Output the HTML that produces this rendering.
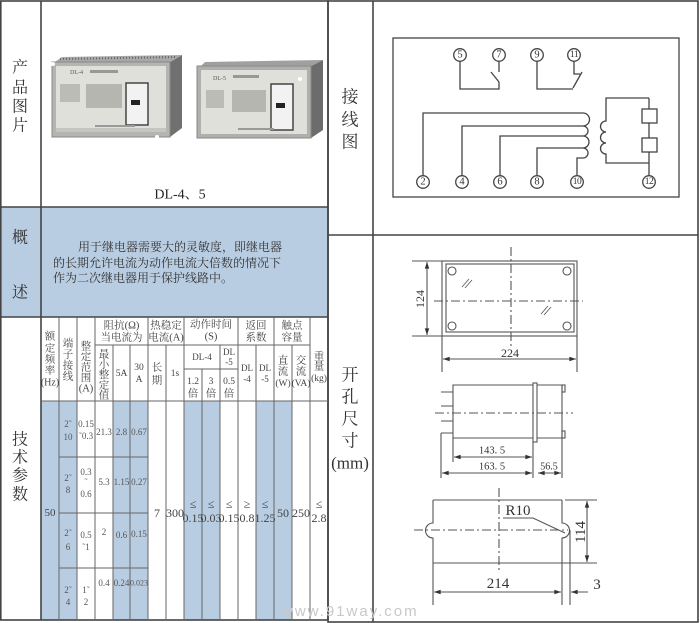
<!DOCTYPE html>
<html><head><meta charset="utf-8"><style>
html,body{margin:0;padding:0;background:#fff;}
svg{display:block;}
text{font-family:"Liberation Serif","Noto Serif CJK SC",serif;}
.h{font-size:10.5px;fill:#444;}
.d{font-size:9px;fill:#555;}
.m{font-size:12px;fill:#444;}
.lab{font-size:16px;fill:#333;}
.n{font-size:10.5px;fill:#333;}
.wm{font-family:"Liberation Sans",sans-serif;font-size:15px;fill:#c8c8c8;}
</style></head><body>
<svg width="700" height="623" viewBox="0 0 700 623" xmlns="http://www.w3.org/2000/svg">
<defs>
<marker id="ar" viewBox="0 0 8 6" refX="8" refY="3" markerWidth="7" markerHeight="5" orient="auto-start-reverse" markerUnits="userSpaceOnUse"><path d="M0,0.3 L8,3 L0,5.7 z" fill="#333"/></marker>
</defs>
<rect width="700" height="623" fill="#fff"/>

<!-- blue fills -->
<rect x="0" y="207" width="328" height="110" fill="#b9cde2"/>
<rect x="41" y="401" width="36" height="219" fill="#b9cde2"/>
<rect x="113" y="401" width="35" height="219" fill="#b9cde2"/>
<rect x="184" y="401" width="36" height="219" fill="#b9cde2"/>
<rect x="256" y="401" width="36" height="219" fill="#b9cde2"/>

<!-- photos -->
<g>
 <polygon points="170,62 182,55 182,128 170,137" fill="#707070"/>
 <polygon points="52,64 62,57 182,55 170,62" fill="#a8a8a8"/>
 <line x1="60" y1="59" x2="176" y2="57" stroke="#666" stroke-width="2" stroke-dasharray="1 2"/>
 <rect x="52" y="62" width="118" height="75" fill="#b4b4b2" stroke="#888"/>
 <rect x="56" y="66" width="110" height="66" fill="#e0e0da"/>
 <rect x="56" y="128" width="110" height="4" fill="#c6c6c0"/>
 <text x="70" y="74" font-size="6" fill="#555">DL-4</text>
 <rect x="90" y="70" width="28" height="3" fill="#999994"/>
 <rect x="60" y="84" width="20" height="18" fill="#bcbcb6"/>
 <rect x="86" y="84" width="36" height="24" fill="#b6b6b0"/>
 <rect x="126" y="83" width="22" height="42" fill="#f2f2f2" stroke="#444" stroke-width="1.5"/>
 <rect x="131" y="100" width="9" height="5" fill="#222"/>
 <rect x="95" y="125" width="40" height="2" fill="#999"/>
 <circle cx="53" cy="64" r="2" fill="#fff"/>
 <circle cx="157" cy="137" r="2" fill="#fff"/>

 <polygon points="311,66 323,60 323,130 311,138" fill="#6c6c6c"/>
 <polygon points="197,70 205,62 323,60 311,66" fill="#a0a0a0"/>
 <rect x="197" y="66" width="114" height="72" fill="#afafad" stroke="#888"/>
 <rect x="201" y="70" width="106" height="64" fill="#e0e0da"/>
 <text x="213" y="80" font-size="6" fill="#555">DL-5</text>
 <rect x="233" y="75" width="26" height="3" fill="#999994"/>
 <rect x="206" y="90" width="18" height="18" fill="#bcbcb6"/>
 <rect x="232" y="90" width="34" height="22" fill="#b6b6b0"/>
 <rect x="271" y="84" width="22" height="46" fill="#f2f2f2" stroke="#444" stroke-width="1.5"/>
 <rect x="276" y="103" width="9" height="5" fill="#222"/>
 <rect x="238" y="128" width="36" height="2" fill="#999"/>
 <circle cx="300" cy="79" r="2" fill="#fff"/>
</g>

<!-- main borders -->
<g stroke="#444" stroke-width="1.6" fill="none">
 <rect x="0.8" y="1" width="327.2" height="619"/>
 <rect x="328" y="1" width="370" height="621"/>
 <line x1="0" y1="207" x2="328" y2="207"/>
 <line x1="0" y1="317" x2="328" y2="317"/>
 <line x1="41" y1="1" x2="41" y2="620"/>
 <line x1="328" y1="235" x2="698" y2="235"/>
 <line x1="373" y1="1" x2="373" y2="622"/>
</g>

<!-- tech table internal lines -->
<g stroke="#666" stroke-width="1" fill="none">
 <path d="M59 317V620M77 317V620M95 317V620M148 317V620M184 317V620M238 317V620M274 317V620M310 317V620"/>
 <path d="M113 345V620M130 345V620M166 345V620M220 345V620M256 345V620M292 345V620M202 369V620"/>
 <path d="M95 345H310M184 369H238M41 401H328M59 457H148M59 513H148M59 568H148"/>
</g>

<!-- left labels -->
<g class="lab" text-anchor="middle" dominant-baseline="central">
 <text x="20" y="68">产</text><text x="20" y="88">品</text><text x="20" y="107">图</text><text x="20" y="126">片</text>
 <text x="20" y="238">概</text><text x="20" y="293">述</text>
 <text x="20" y="440">技</text><text x="20" y="458">术</text><text x="20" y="476">参</text><text x="20" y="495">数</text>
</g>
<text x="180" y="195" font-size="14" fill="#222" text-anchor="middle" dominant-baseline="central">DL-4、5</text>

<g font-size="12" fill="#333" dominant-baseline="central">
 <text x="78" y="247">用于继电器需要大的灵敏度，即继电器</text>
 <text x="53" y="263">的长期允许电流为动作电流大倍数的情况下</text>
 <text x="53" y="278">作为二次继电器用于保护线路中。</text>
</g>

<!-- header text -->
<g class="h" text-anchor="middle" dominant-baseline="central">
 <text x="50" y="337">额</text><text x="50" y="349">定</text><text x="50" y="360">频</text><text x="50" y="371">率</text><text x="50" y="383" font-size="10">(Hz)</text>
 <text x="68" y="344">端</text><text x="68" y="355">子</text><text x="68" y="366">接</text><text x="68" y="377">线</text>
 <text x="86" y="347">整</text><text x="86" y="357.5">定</text><text x="86" y="368">范</text><text x="86" y="378.5">围</text><text x="86" y="389">(A)</text>
 <text x="121.5" y="326">阻抗(Ω)</text><text x="121.5" y="338">当电流为</text>
 <text x="104" y="355">最</text><text x="104" y="365">小</text><text x="104" y="375.5">整</text><text x="104" y="386">定</text><text x="104" y="396">值</text>
 <text x="121.5" y="374" font-size="9.5">5A</text>
 <text x="139" y="368" font-size="9.5">30</text><text x="139" y="380" font-size="9.5">A</text>
 <text x="166" y="326">热稳定</text><text x="166" y="338">电流(A)</text>
 <text x="157" y="368">长</text><text x="157" y="381">期</text>
 <text x="175" y="374" font-size="9.5">1s</text>
 <text x="211" y="325">动作时间</text><text x="211" y="337">(S)</text>
 <text x="202" y="357" font-size="9">DL-4</text>
 <text x="229" y="352" font-size="9">DL</text><text x="229" y="362" font-size="9">-5</text>
 <text x="193" y="382" font-size="9.5">1.2</text><text x="193" y="394">倍</text>
 <text x="211" y="382" font-size="9.5">3</text><text x="211" y="394">倍</text>
 <text x="229" y="382" font-size="9.5">0.5</text><text x="229" y="394">倍</text>
 <text x="256" y="326">返回</text><text x="256" y="338">系数</text>
 <text x="247" y="368" font-size="9">DL</text><text x="247" y="379" font-size="9">-4</text>
 <text x="265" y="368" font-size="9">DL</text><text x="265" y="379" font-size="9">-5</text>
 <text x="292" y="326">触点</text><text x="292" y="338">容量</text>
 <text x="283" y="361">直</text><text x="283" y="372">流</text><text x="283" y="384" font-size="9.5">(W)</text>
 <text x="301" y="361">交</text><text x="301" y="372">流</text><text x="301" y="384" font-size="9.5">(VA)</text>
 <text x="319" y="357">重</text><text x="319" y="367">量</text><text x="319" y="379" font-size="9.5">(kg)</text>
</g>

<!-- data text -->
<g class="d" text-anchor="middle" dominant-baseline="central">
 <text x="68" y="424">2˜</text><text x="68" y="437">10</text>
 <text x="86" y="424">0.15</text><text x="86" y="436">˜0.3</text>
 <text x="104" y="432">21.3</text><text x="121.5" y="432">2.8</text><text x="139" y="432">0.67</text>
 <text x="68" y="478">2˜</text><text x="68" y="490">8</text>
 <text x="86" y="472">0.3</text><text x="86" y="482">˜</text><text x="86" y="494">0.6</text>
 <text x="104" y="482">5.3</text><text x="121.5" y="482">1.15</text><text x="139" y="482">0.27</text>
 <text x="68" y="533">2˜</text><text x="68" y="547">6</text>
 <text x="86" y="535">0.5</text><text x="86" y="547">˜1</text>
 <text x="104" y="532">2</text><text x="121.5" y="535">0.6</text><text x="139" y="534">0.15</text>
 <text x="68" y="590">2˜</text><text x="68" y="602">4</text>
 <text x="86" y="590">1˜</text><text x="86" y="602">2</text>
 <text x="104" y="583">0.4</text><text x="121.5" y="583">0.24</text><text x="139" y="583" font-size="8">0.023</text>
</g>
<g class="m" text-anchor="middle" dominant-baseline="central">
 <text x="50" y="513" font-size="11">50</text>
 <text x="157" y="513">7</text><text x="175" y="513">300</text>
 <text x="193" y="504">≤</text><text x="193" y="518">0.15</text>
 <text x="211" y="504">≤</text><text x="211" y="518">0.03</text>
 <text x="229" y="504">≤</text><text x="229" y="518">0.15</text>
 <text x="247" y="504">≥</text><text x="247" y="518">0.8</text>
 <text x="265" y="504">≤</text><text x="265" y="518">1.25</text>
 <text x="283" y="513">50</text><text x="301" y="513">250</text>
 <text x="319" y="504">≤</text><text x="319" y="518">2.8</text>
</g>

<!-- right labels -->
<g font-size="17" fill="#333" text-anchor="middle" dominant-baseline="central">
 <text x="350" y="97">接</text><text x="350" y="120">线</text><text x="350" y="142">图</text>
 <text x="350" y="375">开</text><text x="350" y="397">孔</text><text x="350" y="419">尺</text><text x="350" y="441">寸</text>
 <text x="350" y="463">(mm)</text>
</g>

<!-- wiring diagram -->
<g stroke="#444" stroke-width="1.3" fill="none">
 <rect x="393" y="38" width="286" height="159"/>
 <path d="M460 61.5V89H499V82M491 72L499 82M499 61.5V72"/>
 <path d="M537 61.5V89H573M573 88L582 72M574 61.5V74H580"/>
 <path d="M423 175.7V113H583M462 175.7V126H583M500 175.7V136H583M537 175.7V148H583M577 175.7V158H583"/>
 <path d="M583 113A6.5 6.5 0 0 1 583 126A5 5 0 0 1 583 136A6 6 0 0 1 583 148A5 5 0 0 1 583 158"/>
 <path d="M649 98H606V121A5.5 5.5 0 0 0 606 132A5.5 5.5 0 0 0 606 143A5.5 5.5 0 0 0 606 154V163H649"/>
 <path d="M649 98V175.7"/>
 <rect x="642" y="109" width="15" height="14" fill="#fff"/>
 <rect x="642" y="138" width="15" height="14" fill="#fff"/>
 <circle cx="460" cy="55" r="6.3" fill="#fff"/><circle cx="499" cy="55" r="6.3" fill="#fff"/>
 <circle cx="537" cy="55" r="6.3" fill="#fff"/><circle cx="574" cy="55" r="6.3" fill="#fff"/>
 <circle cx="423" cy="182" r="6.3" fill="#fff"/><circle cx="462" cy="182" r="6.3" fill="#fff"/>
 <circle cx="500" cy="182" r="6.3" fill="#fff"/><circle cx="537" cy="182" r="6.3" fill="#fff"/>
 <circle cx="577" cy="182" r="6.3" fill="#fff"/><circle cx="649" cy="182" r="6.3" fill="#fff"/>
</g>
<g class="n" text-anchor="middle" dominant-baseline="central">
 <text x="460" y="55">5</text><text x="499" y="55">7</text><text x="537" y="55">9</text><text x="574" y="55" font-size="9.5" letter-spacing="-0.5">11</text>
 <text x="423" y="182">2</text><text x="462" y="182">4</text><text x="500" y="182">6</text><text x="537" y="182">8</text>
 <text x="577" y="182" font-size="9.5" letter-spacing="-0.5">10</text><text x="649" y="182" font-size="9.5" letter-spacing="-0.5">12</text>
</g>

<!-- front view -->
<g stroke="#555" stroke-width="1.1" fill="none">
 <rect x="442" y="261" width="135" height="75"/>
 <rect x="446" y="264" width="128" height="68"/>
 <circle cx="452" cy="271" r="4"/><circle cx="567" cy="271" r="4"/>
 <circle cx="452" cy="326" r="4"/><circle cx="567" cy="326" r="4"/>
 <path d="M511 247V347M434 301H583" stroke-dasharray="9 3 2 3"/>
 <path d="M462 287L469 279M465 288L472 280M541 314L548 306M544 315L551 307" stroke-width="0.8"/>
 <path d="M412 261H442M412 336H442M442 336V372M577 336V372"/>
 <line x1="427" y1="262" x2="427" y2="335" marker-start="url(#ar)" marker-end="url(#ar)"/>
 <line x1="443" y1="359" x2="576" y2="359" marker-start="url(#ar)" marker-end="url(#ar)"/>
</g>
<text transform="translate(420,299) rotate(-90)" font-size="12" fill="#333" text-anchor="middle" dominant-baseline="central">124</text>
<text x="510" y="353" font-size="12" fill="#333" text-anchor="middle" dominant-baseline="central">224</text>

<!-- side view -->
<g stroke="#555" stroke-width="1.1" fill="none">
 <path d="M533 385H453V438H533"/>
 <rect x="533" y="383" width="4" height="59"/>
 <path d="M537 385H562V438H537"/>
 <rect x="562" y="385" width="3" height="7"/>
 <rect x="562" y="431" width="3" height="7"/>
 <path d="M441 392H453M441 406H453M441 421H453M441 433H453"/>
 <path d="M435 413H573" stroke-dasharray="9 3 2 3"/>
 <path d="M453 438V462M441 433V478M533 442V478M562 438V478"/>
 <line x1="454" y1="457" x2="532" y2="457" marker-start="url(#ar)" marker-end="url(#ar)"/>
 <line x1="442" y1="473" x2="532" y2="473" marker-start="url(#ar)" marker-end="url(#ar)"/>
 <line x1="538" y1="473" x2="561" y2="473" marker-start="url(#ar)" marker-end="url(#ar)"/>
</g>
<g font-size="10.5" fill="#333" text-anchor="middle" dominant-baseline="central">
 <text x="492" y="451">143. 5</text>
 <text x="492" y="467">163. 5</text>
 <text x="549" y="467" font-size="10">56.5</text>
</g>

<!-- cutout view -->
<g stroke="#555" stroke-width="1.1" fill="none">
 <path d="M433 500H562M565 500H597M433 563H597"/>
 <path d="M433 500V523A7.5 7.5 0 0 0 433 538V605"/>
 <path d="M562 500V523A7.5 7.5 0 0 1 562 538V605"/>
 <path d="M570 530V605"/>
 <path d="M499 488V573M414 530H568" stroke-dasharray="9 3 2 3"/>
 <path d="M503 518H533L565 533"/>
 <line x1="587" y1="501" x2="587" y2="562" marker-start="url(#ar)" marker-end="url(#ar)"/>
 <line x1="434" y1="592" x2="561" y2="592" marker-start="url(#ar)" marker-end="url(#ar)"/>
 <line x1="588" y1="592" x2="571" y2="592" marker-end="url(#ar)"/>
</g>
<text x="518" y="511" font-size="15" fill="#333" text-anchor="middle" dominant-baseline="central">R10</text>
<text transform="translate(581,532) rotate(-90)" font-size="15" fill="#333" text-anchor="middle" dominant-baseline="central">114</text>
<text x="498" y="584" font-size="15" fill="#333" text-anchor="middle" dominant-baseline="central">214</text>
<text x="597" y="585" font-size="15" fill="#333" text-anchor="middle" dominant-baseline="central">3</text>

<!-- watermark -->
<text class="wm" x="282" y="616" letter-spacing="2">www.91way.com</text>
</svg>
</body></html>
